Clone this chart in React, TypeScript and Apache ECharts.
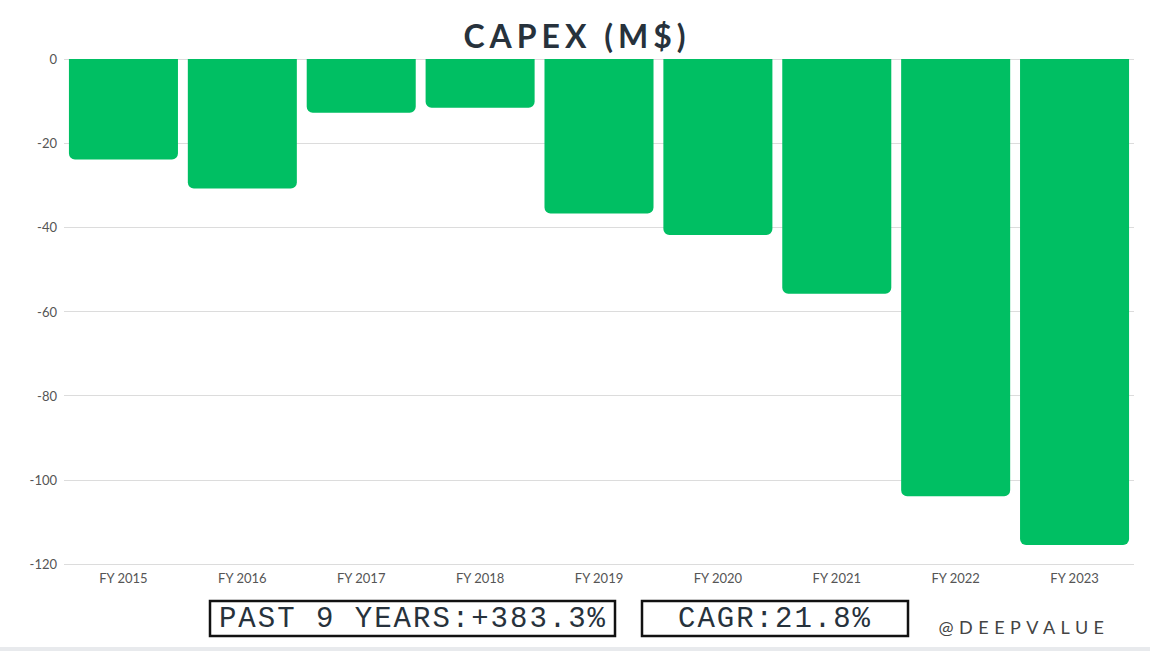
import React, { useEffect, useRef } from "react";
import * as echarts from "echarts";

const categories = ["FY 2015", "FY 2016", "FY 2017", "FY 2018", "FY 2019", "FY 2020", "FY 2021", "FY 2022", "FY 2023"];
const capex = [-23.9, -30.8, -12.8, -11.6, -36.7, -41.8, -55.8, -103.9, -115.5];
const yTicks = { min: -120, max: 0, interval: 20 };
const titleText = "CAPEX (M$)";
const growthText = "PAST 9 YEARS:+383.3%";
const cagrText = "CAGR:21.8%";
const watermark = "@DEEPVALUE";

const spacing: Record<string, string> = {
  [titleText]: "5px",
  [growthText]: "2px",
  [cagrText]: "2px",
  [watermark]: "5.5px",
};

export default function App() {
  const ref = useRef<HTMLDivElement>(null);
  useEffect(() => {
    document.body.style.margin = "0";
    const chart = echarts.init(ref.current!, null, { renderer: "svg" });
    chart.setOption({
      animation: false,
      backgroundColor: "#ffffff",
      grid: { left: 64, right: 16, top: 59, bottom: 87 },
      xAxis: {
        type: "category",
        data: categories,
        position: "bottom",
        axisLine: { show: false, onZero: false },
        axisTick: { show: false },
        axisLabel: { color: "#555", fontFamily: "Lato", fontSize: 13, margin: 7 },
      },
      yAxis: {
        type: "value",
        min: yTicks.min,
        max: yTicks.max,
        interval: yTicks.interval,
        axisLine: { show: false },
        axisTick: { show: false },
        axisLabel: { color: "#555", fontFamily: "Lato", fontSize: 13, margin: 7 },
        splitLine: { lineStyle: { color: "#dcdcdc", width: 1 } },
      },
      series: [
        {
          type: "bar",
          data: capex,
          barCategoryGap: "8.3%",
          itemStyle: { color: "#00BF63", borderRadius: [0, 0, 6, 6] },
        },
      ],
      graphic: [
        {
          type: "text",
          x: 577,
          y: 35,
          style: {
            text: titleText,
            fontFamily: "Lato",
            fontWeight: "bold",
            fontSize: 32,
            fill: "#27323c",
            align: "center",
            verticalAlign: "middle",
          },
        },
        {
          type: "rect",
          shape: { x: 210, y: 601, width: 405, height: 35 },
          style: { fill: "#fff", stroke: "#111", lineWidth: 2.5 },
        },
        {
          type: "text",
          x: 413,
          y: 619,
          style: {
            text: growthText,
            fontFamily: "Liberation Mono",
            fontSize: 29,
            fill: "#27323c",
            align: "center",
            verticalAlign: "middle",
          },
        },
        {
          type: "rect",
          shape: { x: 642, y: 601, width: 266, height: 35 },
          style: { fill: "#fff", stroke: "#111", lineWidth: 2.5 },
        },
        {
          type: "text",
          x: 775,
          y: 619,
          style: {
            text: cagrText,
            fontFamily: "Liberation Mono",
            fontSize: 29,
            fill: "#27323c",
            align: "center",
            verticalAlign: "middle",
          },
        },
        {
          type: "text",
          x: 1024,
          y: 627,
          style: {
            text: watermark,
            fontFamily: "Lato",
            fontSize: 18,
            fill: "#444",
            align: "center",
            verticalAlign: "middle",
          },
        },
        {
          type: "rect",
          shape: { x: 0, y: 647, width: 1150, height: 4 },
          style: { fill: "#e8eaed" },
        },
      ],
    });
    const applySpacing = () => {
      ref.current?.querySelectorAll("text").forEach((t) => {
        const s = spacing[(t.textContent || "").trim()];
        if (s) (t as SVGTextElement).style.letterSpacing = s;
      });
    };
    applySpacing();
    chart.on("finished", applySpacing);
    return () => chart.dispose();
  }, []);
  return <div ref={ref} style={{ width: 1150, height: 651 }} />;
}
